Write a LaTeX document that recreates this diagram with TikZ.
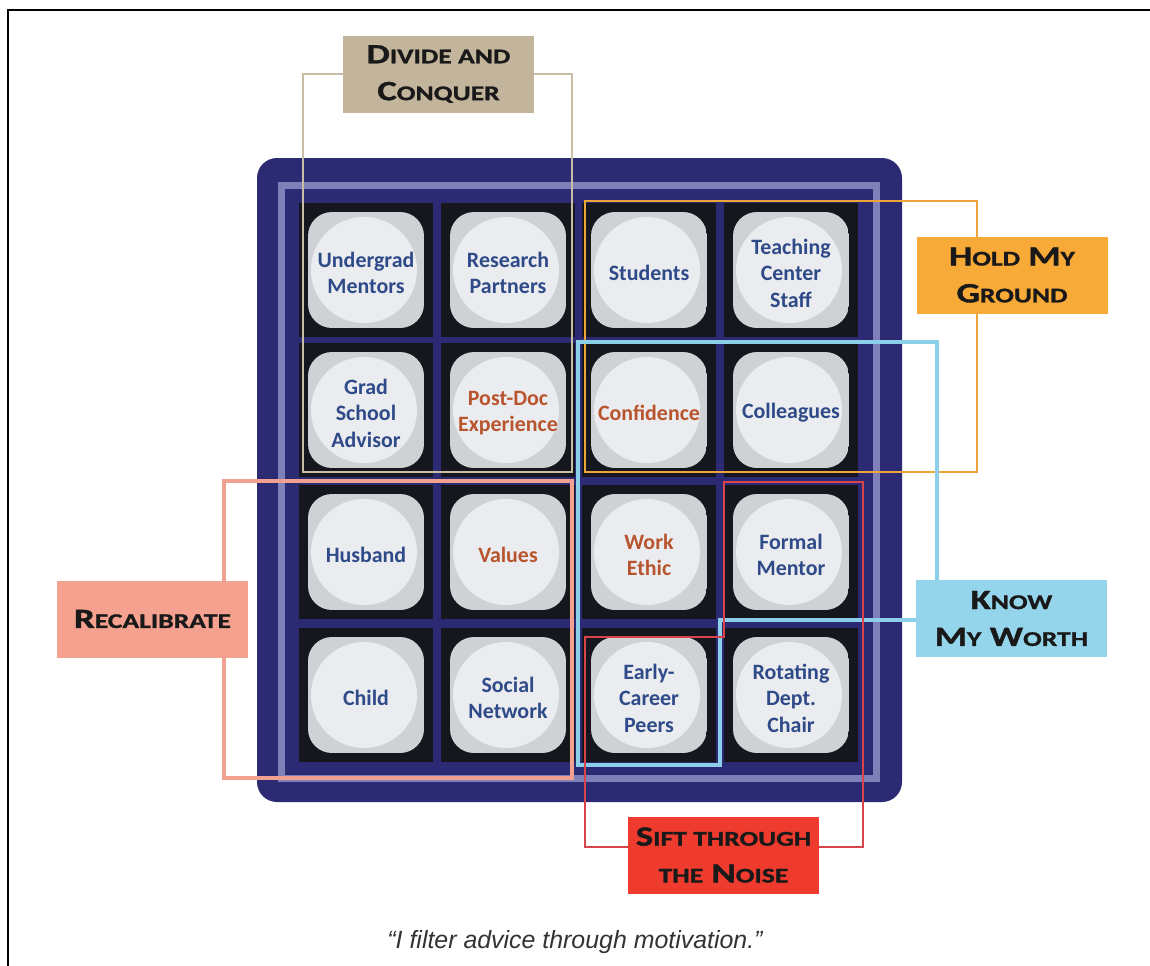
\documentclass[tikz,border=0pt]{standalone}
\usepackage{fontspec}
\setmainfont{Carlito}
\newfontfamily\tilefont{Carlito}
\newfontfamily\labfont[FakeStretch=1.32,FakeBold=1.2]{Carlito}
\newfontfamily\quotefont{Liberation Sans}
\newcommand\lsc[1]{{\fontsize{21}{37}\selectfont #1}}
\definecolor{navy}{HTML}{2B2A73}
\definecolor{lav}{HTML}{8080B8}
\definecolor{cellblack}{HTML}{16161E}
\definecolor{tilegray}{HTML}{CFD1D5}
\definecolor{tilelight}{HTML}{EBECEF}
\definecolor{tblue}{HTML}{2E4A88}
\definecolor{torange}{HTML}{B8552E}
\definecolor{dcfill}{HTML}{C3B59B}
\definecolor{dcline}{HTML}{C8BDA5}
\definecolor{hmfill}{HTML}{F8AA38}
\definecolor{hmline}{HTML}{EDA53A}
\definecolor{kmfill}{HTML}{95D5EB}
\definecolor{kmline}{HTML}{8CCFEA}
\definecolor{recfill}{HTML}{F5A18F}
\definecolor{recline}{HTML}{F2A08F}
\definecolor{sftfill}{HTML}{EE3B2E}
\definecolor{sftline}{HTML}{D9434A}
\tikzset{
  tiletext/.style={inner sep=0pt, align=center,
    font=\tilefont\bfseries\fontsize{22}{26.5}\selectfont, text=tblue},
  warm/.style={text=torange},
  lab/.style={minimum width=191bp, minimum height=77bp, inner sep=0pt, align=center,
    font=\labfont\bfseries\fontsize{28}{37}\selectfont, text=black!90},
  outline/.style={line width=#1, line join=miter},
}
\begin{document}
\begin{tikzpicture}[x=1bp,y=-1bp]
\useasboundingbox (0,0) rectangle (1150,966);
\fill[white] (0,0) rectangle (1150,966);
% frame
\draw[line width=2bp] (7.5,966) -- (7.5,9.5) -- (1150,9.5);
% board
\fill[navy, rounded corners=20bp] (257,158) rectangle (902,802);
\draw[lav, line width=7bp] (281,185) rectangle (876,778);
\foreach \x in {366,508,649,791}
  \foreach \y in {270,410,552,695}{
    \fill[cellblack] (\x-67,\y-67) rectangle (\x+67,\y+67);
    \begin{scope}
      \path[clip, rounded corners=24bp] (\x-58,\y-58) rectangle (\x+58,\y+58);
      \fill[tilegray] (\x-58,\y-58) rectangle (\x+58,\y+58);
      \fill[tilelight] (\x-2,\y) circle[radius=53bp];
    \end{scope}
  }
% tile texts
\node[tiletext] (um) at (366,273) {Undergrad\\Mentors};
\node[tiletext] (rp) at (508,273) {Research\\Partners};
\node[tiletext] (st) at (649,273) {Students};
\node[tiletext] (tc) at (791,273) {Teaching\\Center\\Staff};
\node[tiletext] (gs) at (366,413) {Grad\\School\\Advisor};
\node[tiletext,warm] (pd) at (508,413) {Post-Doc\\Experience};
\node[tiletext,warm] (cf) at (649,413) {Confidence};
\node[tiletext] (cl) at (791,413) {Colleagues};
\node[tiletext] (hb) at (366,555) {Husband};
\node[tiletext,warm] (va) at (508,555) {Values};
\node[tiletext,warm] (we) at (649,555) {Work\\Ethic};
\node[tiletext] (fm) at (791,555) {Formal\\Mentor};
\node[tiletext] (ch) at (366,698) {Child};
\node[tiletext] (sn) at (508,698) {Social\\Network};
\node[tiletext] (ec) at (649,698) {Early-\\Career\\Peers};
\node[tiletext] (rd) at (791,698) {Rotating\\Dept.\\Chair};
% outlines
\draw[dcline, outline=2bp] (303,74) rectangle (572,472);
\draw[recline, outline=3.5bp] (224,481) rectangle (572,778);
\draw[hmline, outline=2.5bp] (585,201) rectangle (977,472);
\draw[kmline, outline=3.5bp] (578,342) -- (937,342) -- (937,620) -- (720,620) -- (720,765) -- (578,765) -- cycle;
\draw[sftline, outline=2bp] (724,482) -- (863,482) -- (863,847) -- (585,847) -- (585,637) -- (724,637) -- cycle;
% labels
\node[lab, fill=dcfill] (dc) at (438.5,74) {D\lsc{IVIDE AND}\\C\lsc{ONQUER}};
\node[lab, fill=hmfill] (hm) at (1012,275) {H\lsc{OLD} M\lsc{Y}\\G\lsc{ROUND}};
\node[lab, fill=kmfill] (km) at (1011.5,618.5) {K\lsc{NOW}\\M\lsc{Y} W\lsc{ORTH}};
\node[lab, fill=recfill] (rc) at (152.5,619) {R\lsc{ECALIBRATE}};
\node[lab, fill=sftfill] (sf) at (723.5,855) {S\lsc{IFT THROUGH}\\\lsc{THE} N\lsc{OISE}};
% quote
\node[font=\quotefont\itshape\fontsize{25}{30}\selectfont, text=black!80] (quote) at (575,942) {“I filter advice through motivation.”};
\end{tikzpicture}
\end{document}
